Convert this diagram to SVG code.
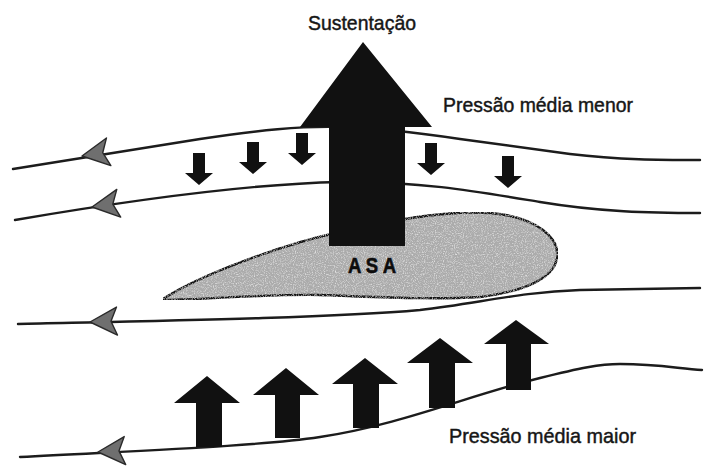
<svg xmlns="http://www.w3.org/2000/svg" width="712" height="468" viewBox="0 0 712 468">
  <defs>
    <style>
      .flow { fill: none; stroke: #1c1c1c; stroke-width: 2.4; stroke-linecap: round; }
      .head { fill: #6f6f6f; stroke: #2a2a2a; stroke-width: 1.4; stroke-linejoin: round; }
      .force { fill: #111111; }
      .label { font-family: "Liberation Sans Narrow", "Liberation Sans", Arial, sans-serif; font-size: 21px; fill: #161616; stroke: #161616; stroke-width: 0.45; }
      .wing { fill: #ababab; stroke: #141414; stroke-width: 2.4; stroke-linejoin: round; }
      .wing-label { font-family: "Liberation Sans Narrow", "Liberation Sans", Arial, sans-serif; font-size: 22px; font-weight: bold; fill: #0c0c0c; stroke: #0c0c0c; stroke-width: 0.6; }
    </style>
    <!-- flow direction head, pointing towards -x, tip at origin -->
    <path id="flowHead" class="head" d="M0,0 L27,-14 L21,0 L27,14 Z"/>
    <!-- small downward pressure arrow, origin at top centre of the shaft -->
    <path id="downArrow" class="force" d="M-6,0 H6 V20 H14 L0,32 L-14,20 H-6 Z"/>
    <filter id="grain" x="0" y="0" width="100%" height="100%">
      <feTurbulence type="fractalNoise" baseFrequency="0.9" numOctaves="2" seed="4" result="noise"/>
      <feColorMatrix in="noise" type="matrix" values="0 0 0 0 1  0 0 0 0 1  0 0 0 0 1  0 0 0 -1.4 0.75" result="specks"/>
      <feComposite in="specks" in2="SourceGraphic" operator="in" result="clipped"/>
      <feMerge>
        <feMergeNode in="SourceGraphic"/>
        <feMergeNode in="clipped"/>
      </feMerge>
    </filter>
  </defs>

  <rect width="712" height="468" fill="#ffffff"/>

  <!-- streamlines -->
  <g id="connectors">
    <path class="flow" d="M13,169 L200,139 C260,130 300,126 340,127 C380,128 420,133 460,139 L570,154 C620,160 660,160 700,160"/>
    <path class="flow" d="M15,220 C120,202 240,184 340,182 C420,181 480,192 540,202 C600,212 650,213 700,213"/>
    <path class="flow" d="M18,324 C150,321 330,318 420,310 C480,303 520,292 580,290 L700,288"/>
    <path class="flow" d="M20,457 C150,450 260,446 320,437 C400,425 470,395 540,378 C580,368 600,364 620,364 C660,364 680,369 702,370"/>
    <use href="#flowHead" transform="translate(82,156) rotate(-9)"/>
    <use href="#flowHead" transform="translate(92,207) rotate(-8)"/>
    <use href="#flowHead" transform="translate(90,322) rotate(-2)"/>
    <use href="#flowHead" transform="translate(98,452) rotate(-3)"/>
  </g>

  <!-- wing section -->
  <g id="asa">
    <path class="wing" filter="url(#grain)" d="M163,299 C200,275 280,245 340,232 C400,218 450,210 490,213 C540,217 560,240 557,258 C554,280 520,292 480,297 C430,300 380,297 320,295 C260,294 200,300 163,300 Z"/>
  </g>

  <!-- lift -->
  <g id="sustentacao">
    <polygon class="force" points="363,42 432,127 405,127 405,246 329,246 329,127 300,127"/>
    <text class="label" x="362" y="30" text-anchor="middle" textLength="108" lengthAdjust="spacingAndGlyphs">Sustentação</text>
  </g>

  <g id="asa-label">
    <text class="wing-label" x="372" y="273" text-anchor="middle" textLength="48" lengthAdjust="spacingAndGlyphs">A S A</text>
  </g>

  <!-- low pressure above the wing -->
  <g id="pressao-menor">
    <use href="#downArrow" x="199" y="153"/>
    <use href="#downArrow" x="253" y="142"/>
    <use href="#downArrow" x="302" y="133"/>
    <use href="#downArrow" x="431" y="143"/>
    <use href="#downArrow" x="508" y="156"/>
    <text class="label" x="443" y="112" textLength="190" lengthAdjust="spacingAndGlyphs">Pressão média menor</text>
  </g>

  <!-- high pressure below the wing -->
  <g id="pressao-maior">
    <path class="force" d="M207,376 L240,403 L222,403 L222,447 L196,447 L196,403 L174,403 Z"/>
    <path class="force" d="M286,368 L319,395 L300,395 L300,438 L275,438 L275,395 L253,395 Z"/>
    <path class="force" d="M365,358 L398,384 L379,384 L379,428 L353,428 L353,384 L332,384 Z"/>
    <path class="force" d="M440,338 L473,363 L455,363 L455,408 L429,408 L429,363 L407,363 Z"/>
    <path class="force" d="M516,320 L549,344 L531,344 L531,390 L506,390 L506,344 L484,344 Z"/>
    <text class="label" x="449" y="443" textLength="187" lengthAdjust="spacingAndGlyphs">Pressão média maior</text>
  </g>
</svg>
